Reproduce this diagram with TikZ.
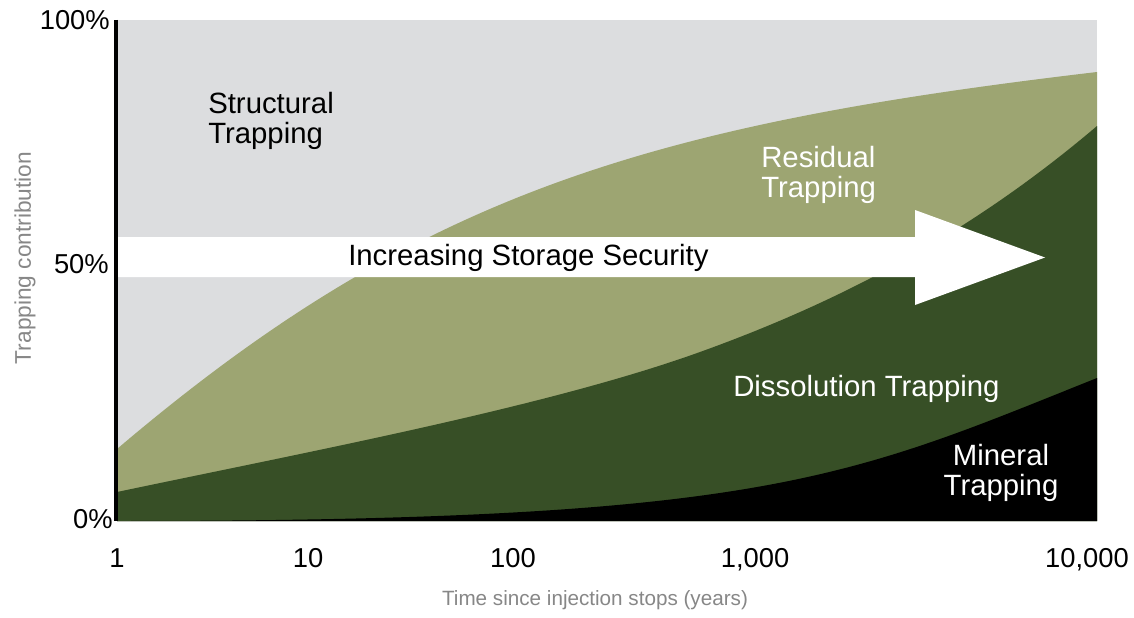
\documentclass[tikz,border=0pt]{standalone}
\usepackage{fontspec}
\setmainfont{Liberation Sans}
\definecolor{structgray}{RGB}{220,221,223}
\definecolor{residgreen}{RGB}{157,165,114}
\definecolor{dissgreen}{RGB}{55,79,38}
\definecolor{titlegray}{RGB}{135,135,135}
\begin{document}
\begin{tikzpicture}[x=0.75pt,y=-0.75pt,
  region/.style={font=\fontsize{22}{23}\selectfont, inner sep=0pt},
  ticklabel/.style={font=\fontsize{20.5}{24}\selectfont, inner sep=0pt},
  axistitle/.style={font=\fontsize{15.5}{18}\selectfont, text=titlegray, inner sep=0pt}]
\useasboundingbox (0,0) rectangle (1134,617);
\fill[white] (0,0) rectangle (1134,617);

% plot frame corners
\coordinate (top) at (116,20);
\coordinate (origin) at (116,521);

% structural trapping: everything up to 100%
\fill[structgray] (117,20) rectangle (1097,521);

% residual trapping
\fill[residgreen] (117,449) .. controls (417,194) and (647,125) .. (1097,72)
  -- (1097,521) -- (117,521) -- cycle;

% dissolution trapping
\fill[dissgreen] (117,492) .. controls (317,450) and (550,406) .. (700,352)
  .. controls (850,298) and (977,228) .. (1097,126)
  -- (1097,521) -- (117,521) -- cycle;

% mineral trapping
\fill[black] (117,521) .. controls (767,521) and (847,478) .. (1097,378)
  -- (1097,521) -- cycle;

% storage security arrow
\fill[white] (117,237) -- (915,237) -- (915,210) -- (1045,257.5) -- (915,305)
  -- (915,277) -- (117,277) -- cycle;
\node[region, anchor=base west] (security) at (348,265) {Increasing Storage Security};

% vertical axis
\draw[line width=2.3pt] (top) -- (origin);

% region labels
\node[region, align=left, anchor=west] (structural) at (208,121) {Structural\\Trapping};
\node[region, align=left, anchor=west, text=white] (residual) at (761,175) {Residual\\Trapping};
\node[region, anchor=base west, text=white] (dissolution) at (733,396) {Dissolution Trapping};
\node[region, align=center, text=white] (mineral) at (1001,473) {Mineral\\Trapping};

% y tick labels
\node[ticklabel, anchor=base east] (y100) at (110,30) {100\%};
\node[ticklabel, anchor=base east] (y50) at (109,273) {50\%};
\node[ticklabel, anchor=base east] (y0) at (113,528) {0\%};

% x tick labels
\node[ticklabel, anchor=base] (x1) at (117,567) {1};
\node[ticklabel, anchor=base] (x10) at (308,567) {10};
\node[ticklabel, anchor=base] (x100) at (513,567) {100};
\node[ticklabel, anchor=base] (x1000) at (755,567) {1,000};
\node[ticklabel, anchor=base] (x10000) at (1087,567) {10,000};

% axis titles
\node[axistitle, anchor=base] (xtitle) at (595,605) {Time since injection stops (years)};
\node[axistitle, anchor=base, rotate=90, font=\fontsize{17}{20}\selectfont] (ytitle) at (31,258) {Trapping contribution};
\end{tikzpicture}
\end{document}
